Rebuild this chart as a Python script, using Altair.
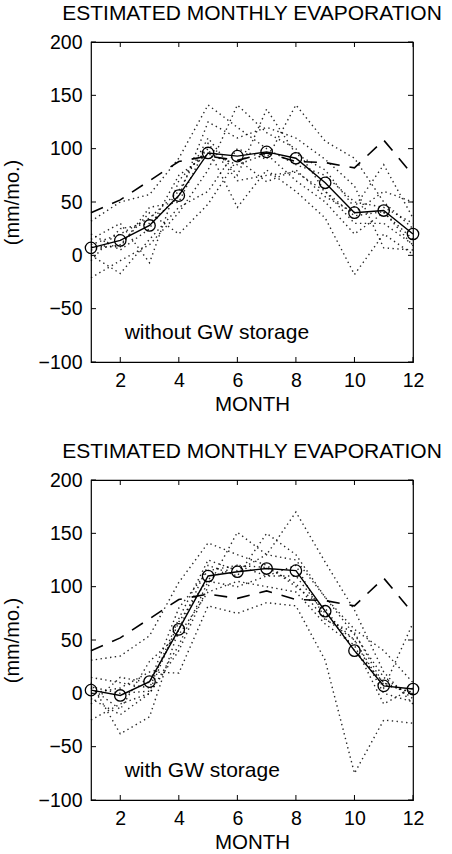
import altair as alt
import pandas as pd

# ---------------- data ----------------
months = list(range(1, 13))

# solid line with circles: mean estimated evaporation
mean_without = [7, 14, 28, 56, 96, 93, 97, 91, 68, 40, 42, 20]
mean_with = [3, -2, 11, 60, 110, 114, 117, 115, 77, 40, 7, 4]

# dashed reference curve (same in both panels)
reference_dashed = [40, 52, 70, 88, 93, 89, 96, 88, 87, 82, 108, 75]

# dotted lines: individual years, top panel (without GW storage)
yr1_without = [32, 50, 57, 91, 141, 120, 100, 85, 75, 50, 45, 30]
yr2_without = [-21, -5, 10, 40, 80, 141, 115, 100, 60, 30, 30, 10]
yr3_without = [10, 20, 35, 60, 110, 75, 137, 95, 80, 45, 85, 35]
yr4_without = [0, -17, 15, 45, 60, 100, 90, 141, 107, 91, 50, 25]
yr5_without = [15, 30, -7, 70, 100, 45, 80, 60, 35, -18, 20, 1]
yr6_without = [5, 10, 40, 20, 48, 90, 69, 80, 55, 40, 60, 50]
yr7_without = [-5, 25, 30, 55, 125, 110, 120, 110, 90, 65, 7, 5]
yr8_without = [20, 5, 25, 75, 95, 85, 95, 70, 50, 20, 40, 15]
yr9_without = [8, 8, 45, 50, 105, 70, 75, 78, 60, 37, 41, 9]

# dotted lines: individual years, bottom panel (with GW storage)
yr1_with = [31, 35, 54, 104, 141, 130, 120, 100, 80, 40, 10, 0]
yr2_with = [-25, -10, 0, 40, 100, 151, 130, 170, 123, 78, 20, -10]
yr3_with = [10, -38, -22, 60, 120, 110, 150, 130, 90, 60, 40, 10]
yr4_with = [0, 5, 20, 19, 82, 75, 85, 82, 31, -75, -25, -28]
yr5_with = [-10, 15, 10, 80, 115, 120, 110, 120, 70, 50, 5, 66]
yr6_with = [5, -15, 30, 55, 95, 105, 100, 95, 65, 45, -10, 5]
yr7_with = [15, 10, 5, 70, 125, 115, 130, 125, 90, 55, 15, -5]
yr8_with = [-5, -20, 0, 45, 105, 100, 110, 110, 75, 50, 0, -8]
yr9_with = [6, 0, 2, 67, 107, 120, 118, 103, 69, 57, 8, 1]

years_without = [yr1_without, yr2_without, yr3_without, yr4_without, yr5_without,
                 yr6_without, yr7_without, yr8_without, yr9_without]
years_with = [yr1_with, yr2_with, yr3_with, yr4_with, yr5_with,
              yr6_with, yr7_with, yr8_with, yr9_with]

x_ticks = [2, 4, 6, 8, 10, 12]
y_ticks = [-100, -50, 0, 50, 100, 150, 200]

title_text = "ESTIMATED MONTHLY EVAPORATION"
x_title = "MONTH"
y_title = "(mm/mo.)"
note_without = "without GW storage"
note_with = "with GW storage"

# ---------------- styling ----------------
W, H = 322, 320
FONT = "Liberation Sans"
TICK = 5


def panel(mean, years, note):
    rows = []
    for i, vals in enumerate(years):
        for m, v in zip(months, vals):
            rows.append({"year": f"y{i}", "month": m, "value": v})
    yr = pd.DataFrame(rows)
    mdf = pd.DataFrame({"month": months, "value": mean})
    ddf = pd.DataFrame({"month": months, "value": reference_dashed})
    xt = pd.DataFrame({"v": x_ticks})
    yt = pd.DataFrame({"v": y_ticks})

    xs = alt.Scale(domain=[1, 12], nice=False, zero=False)
    ys = alt.Scale(domain=[-100, 200], nice=False, zero=False)
    xax = alt.Axis(values=x_ticks, title=x_title, ticks=False, tickSize=0, domain=False,
                   grid=False, labelFontSize=19.5, titleFontSize=20.5, labelPadding=9,
                   titlePadding=5, titleFontWeight="normal", labelColor="black",
                   titleColor="black", labelFont=FONT, titleFont=FONT, labelFlush=False)
    yax = alt.Axis(values=y_ticks, title=y_title, ticks=False, tickSize=0, domain=False,
                   grid=False, labelFontSize=19.5, titleFontSize=20, labelPadding=9,
                   titlePadding=16, titleFontWeight="normal", labelColor="black",
                   titleColor="black", labelFont=FONT, titleFont=FONT, labelFlush=False)

    dotted = alt.Chart(yr).mark_line(strokeDash=[1.4, 3.4], strokeWidth=1.4,
                                     color="black", opacity=0.85).encode(
        x=alt.X("month:Q", scale=xs, axis=xax),
        y=alt.Y("value:Q", scale=ys, axis=yax),
        detail="year:N",
    )
    dashed = alt.Chart(ddf).mark_line(strokeDash=[13, 10], strokeWidth=1.6, color="black").encode(
        x="month:Q", y="value:Q")
    meanline = alt.Chart(mdf).mark_line(strokeWidth=1.4, color="black").encode(
        x="month:Q", y="value:Q")
    circles = alt.Chart(mdf).mark_point(shape="circle", filled=False, size=130,
                                        color="black", strokeWidth=1.3, opacity=1).encode(
        x="month:Q", y="value:Q")

    tb = alt.Chart(xt).mark_rule(color="black", strokeWidth=1).encode(
        x="v:Q", y=alt.value(H), y2=alt.value(H - TICK))
    tt = alt.Chart(xt).mark_rule(color="black", strokeWidth=1).encode(
        x="v:Q", y=alt.value(0), y2=alt.value(TICK))
    tl = alt.Chart(yt).mark_rule(color="black", strokeWidth=1).encode(
        y="v:Q", x=alt.value(0), x2=alt.value(TICK))
    tr = alt.Chart(yt).mark_rule(color="black", strokeWidth=1).encode(
        y="v:Q", x=alt.value(W), x2=alt.value(W - TICK))

    text = alt.Chart(pd.DataFrame({"t": [note]})).mark_text(
        align="left", baseline="middle", fontSize=21, font=FONT, color="black").encode(
        x=alt.datum(2.15), y=alt.datum(-73), text="t:N")

    return alt.layer(dotted, dashed, meanline, circles, tb, tt, tl, tr, text).properties(
        width=W, height=H,
        title=alt.TitleParams(title_text, fontSize=21, font=FONT, fontWeight="normal",
                              anchor="middle", frame="group", color="black", offset=8),
    )


top = panel(mean_without, years_without, note_without)
bottom = panel(mean_with, years_with, note_with)

chart = alt.vconcat(top, bottom, spacing=24).properties(
    padding={"left": 1, "top": 2, "right": 0, "bottom": 0},
    background="white",
).configure_view(stroke="black", strokeWidth=1.2)

chart.save("out.html", embed_options={"renderer": "svg", "actions": False})
